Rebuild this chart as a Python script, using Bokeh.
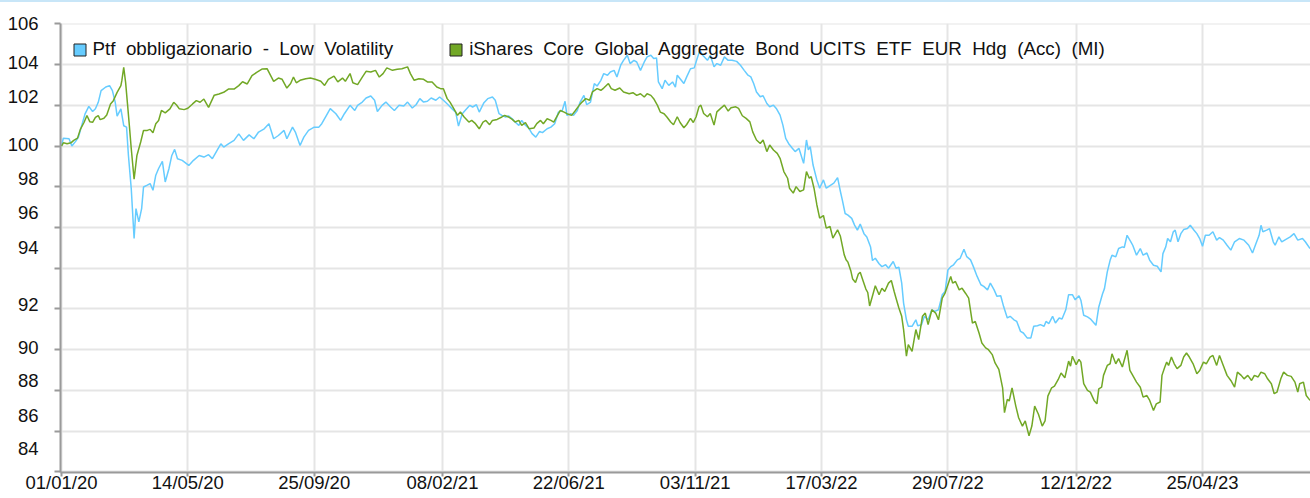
import pandas as pd
from bokeh.plotting import figure
from bokeh.layouts import column
from bokeh.models import (Range1d, FixedTicker, DatetimeTickFormatter, Legend,
                          LegendItem, ColumnDataSource, Div)
from bokeh.embed import file_html
from bokeh.resources import INLINE

START = pd.Timestamp("2020-01-01")

# ---- data: days since 01/01/2020 and index value ----
ptf_days = [0, 2, 8, 11, 15, 18, 22, 25, 29, 33, 36, 39, 42, 47, 51, 54, 57, 59, 63, 66, 69, 71, 74, 77, 79,
            82, 85, 87, 91, 94, 97, 100, 103, 107, 110, 114, 117, 120, 123, 128, 135, 140, 146, 151, 156, 160,
            165, 169, 172, 177, 183, 188, 193, 199, 204, 209,
            215, 220, 225, 230, 236, 239, 245, 248, 253, 257, 262, 268, 273, 276, 281, 285, 291, 296, 300, 306,
            311, 314, 319, 323, 328, 332, 335, 340, 344, 349, 353, 358, 363, 367, 372, 376, 380, 384, 388, 392,
            397, 401, 405, 410, 414, 418, 421, 425, 428, 433,
            436, 440, 443, 448, 452, 457, 460, 464, 467, 471, 474, 478, 481, 485, 488, 492, 496, 499, 503, 507,
            510, 515, 519, 523, 527, 531, 534, 536, 540, 543, 547, 550, 554, 557, 561, 565, 568, 572, 575, 579,
            582, 586, 589, 593, 596, 600, 603, 607, 610, 614, 618, 621, 625, 628, 631, 633, 637, 640, 644, 648, 651,
            653, 656, 660, 663, 667, 671, 674, 677, 680, 685, 688, 692, 695, 699, 703, 707, 711, 716, 720, 724,
            728, 731, 734, 737, 741, 744, 748, 751, 755, 758, 762, 765, 768, 771, 775, 778, 782, 787, 790, 792,
            794, 797, 801, 804, 808, 811, 815, 819, 823, 826,
            828, 831, 834, 838, 841, 844, 847, 851, 854, 858, 860,
            863, 867, 870, 874, 877, 882, 885, 888, 891, 893, 896, 898, 902, 906, 908, 912, 915, 919, 923, 926,
            930, 934, 937, 940, 943, 946, 950, 953, 957, 960, 964, 967, 971, 975, 978, 982, 985, 989, 992, 996,
            999, 1003, 1006, 1010, 1013, 1017, 1020, 1024, 1028, 1031, 1035, 1038, 1042, 1044, 1047, 1051, 1054,
            1058, 1061, 1065, 1068, 1072, 1075, 1079,
            1081, 1084, 1088, 1091, 1094, 1097, 1100, 1104, 1106, 1109, 1112, 1114, 1118, 1121, 1125, 1127, 1130,
            1134, 1136, 1140, 1144, 1147, 1151, 1154, 1158, 1162, 1166, 1168, 1171, 1173, 1176, 1179, 1181, 1184,
            1187, 1190, 1194, 1197, 1201, 1204, 1207, 1210, 1213, 1217, 1221, 1225, 1228, 1232, 1236, 1240, 1244,
            1249, 1254, 1259, 1263, 1266, 1270, 1272, 1274, 1278, 1281, 1285, 1287, 1291, 1294, 1298, 1303, 1307,
            1311, 1316, 1319, 1324]
ptf_vals = [100.0, 100.39, 100.36, 100.0, 100.23, 100.44, 101.1, 101.58, 101.95, 101.7, 101.83, 102.15, 102.72,
            102.9, 102.97, 102.72, 102.15, 101.47, 101.83, 101.0, 100.93, 99.54, 97.9, 95.46, 96.93, 96.28, 96.93,
            97.99, 98.08, 98.16, 97.83, 98.57, 98.9, 99.25, 98.24, 98.9, 99.54, 99.84, 99.38, 99.3, 99.05, 99.3,
            99.54, 99.46, 99.58, 99.38, 99.79, 100.11, 99.95, 100.11, 100.28, 100.6, 100.28, 100.55, 100.36, 100.69,
            100.85, 101.1, 100.36, 100.52, 100.77, 100.36, 100.93, 100.69, 100.03, 100.44, 100.77, 100.93, 100.93,
            101.1, 101.51, 101.84, 101.59, 101.26, 101.59, 102.0, 101.75, 102.0, 102.16, 102.36, 102.46, 102.25,
            101.7, 102.0, 102.16, 101.92, 101.75, 102.0, 101.97, 102.16, 101.87, 102.03, 102.33, 102.16, 102.2,
            102.36, 102.25, 102.41, 102.25, 102.03, 101.84, 101.67, 100.98, 101.59, 101.75, 102.0,
            101.92, 102.03, 101.67, 102.13, 102.33, 102.41, 102.25, 101.59, 101.51, 101.43, 101.48, 101.34, 101.18,
            101.02, 101.26, 101.02, 100.85, 100.61, 100.44, 100.72, 100.66, 100.85, 100.93, 101.1, 101.67, 101.75,
            102.2, 101.51, 101.59, 101.51, 101.75, 102.16, 102.49, 102.03, 102.16, 103.07, 102.95, 103.23, 103.56,
            103.48, 103.64, 103.72, 103.39, 103.97, 104.21, 104.46, 104.05, 104.21, 104.13, 103.72, 104.13, 104.38,
            104.46, 104.3, 104.33, 103.15, 102.82, 103.23, 102.98, 103.15, 102.9,
            103.48, 103.31, 103.07, 103.4, 103.8, 103.84, 104.29, 104.7, 104.46, 104.21, 104.46, 103.89, 104.05,
            103.97, 104.38, 104.21, 104.21, 104.16, 103.97, 103.72, 103.48, 103.4, 103.07, 102.66, 102.42, 102.47,
            102.09, 101.93, 102.01, 101.85, 101.52, 101.03, 100.38, 100.13, 99.89, 99.73, 99.89, 99.15, 100.3,
            99.81, 99.97, 99.07, 98.34, 97.93, 98.34, 97.93, 98.06, 98.18, 98.45, 97.77,
            97.36, 96.69, 96.61, 96.45, 96.12, 95.87, 96.17, 95.7, 95.54, 95.04, 94.38,
            94.49, 94.22, 94.08, 94.17, 94.0, 94.33, 94.0, 94.05, 93.27, 92.29, 91.47, 91.15, 91.15, 91.47, 91.18,
            91.23, 91.64, 91.47, 91.96, 91.88, 91.96, 92.7, 92.86, 93.92, 94.08, 94.17, 94.41, 94.49, 94.93, 94.57,
            94.41, 94.08, 93.6, 93.19, 93.11, 92.94, 93.27, 92.94, 92.62, 92.65, 92.13, 91.56, 91.64, 91.47, 91.39,
            90.9, 90.82, 90.58, 90.58, 91.15, 91.18, 91.23, 91.15, 91.39, 91.28, 91.64, 91.31, 91.56, 91.51, 91.96,
            92.7, 92.7, 92.45, 92.65,
            92.43, 91.69, 91.61, 91.52, 91.36, 91.2, 92.1, 92.75, 93.0, 93.82, 94.39, 94.64, 94.56, 94.97, 95.05,
            95.02, 95.62, 95.3, 95.13, 94.64, 94.97, 94.64, 94.75, 94.39, 94.15, 94.1, 93.82, 94.72, 95.05, 95.46,
            95.3, 95.79, 95.87, 95.3, 95.7, 95.9, 95.95, 96.11, 95.87, 95.7, 95.46, 95.08, 95.62, 95.62, 95.79,
            95.38, 95.51, 95.38, 95.13, 94.89, 95.3, 95.46, 95.38, 95.13, 94.75, 95.13, 95.62, 96.11, 95.79, 95.87,
            95.95, 95.3, 95.13, 95.54, 95.3, 95.41, 95.54, 95.7, 95.38, 95.46, 95.3, 94.97]

etf_days = [0, 2, 6, 10, 13, 17, 20, 24, 27, 30, 33, 36, 39, 41, 45, 48, 52, 55, 59, 63, 64, 66, 68, 70, 72, 74,
            77, 80, 84, 87, 91, 94, 97, 100, 103, 106, 110, 115, 119, 122, 125, 130, 134, 139, 143, 147, 151, 156,
            162, 167, 172, 177, 183, 188, 192, 197, 202, 207, 213,
            218, 225, 230, 234, 239, 243, 246, 249, 253, 259, 264, 269, 275, 279, 283, 289, 293, 298, 301, 306,
            309, 314, 319, 323, 328, 333, 337, 341, 345, 351, 356, 361, 367, 370, 374, 379, 384, 388, 393, 398,
            402, 405, 409, 412, 416, 420, 423, 427, 432,
            435, 439, 443, 447, 450, 454, 457, 462, 467, 470, 474, 478, 481, 485, 488, 492, 496, 501, 504, 508,
            511, 515, 519, 522, 526, 529, 533, 536, 541, 545, 549, 552, 556, 560, 563, 568, 572, 575, 580, 583,
            587, 592, 596, 602, 606, 610, 614, 618, 621, 625, 628, 632, 635, 639, 642, 646, 649,
            653, 656, 660, 663, 667, 670, 673, 676, 678, 681, 685, 688, 692, 695, 699, 703, 707, 710, 715, 718,
            722, 726, 730, 733, 737, 741, 744, 748, 751, 755, 759, 762, 766, 770, 772, 776, 779, 783, 787, 790,
            793, 795, 798, 801, 804, 808, 811, 815, 818, 823, 826, 830, 832,
            834, 837, 839, 842, 845, 847, 850, 853, 855, 857, 860,
            863, 867, 870, 873, 877, 880, 883, 885, 888, 891, 893, 896, 898, 902, 906, 909, 913, 916, 919, 923,
            927, 930, 934, 937, 940, 943, 945, 948, 952, 955, 959, 962, 966, 969, 973, 976, 980, 983, 987, 990,
            994, 998, 1000, 1003, 1005, 1008, 1012, 1015, 1019, 1022, 1026, 1029, 1032, 1036, 1040, 1043, 1046,
            1050, 1053, 1057, 1060, 1064, 1068, 1070, 1072, 1076, 1079,
            1081, 1084, 1088, 1091, 1095, 1098, 1100, 1103, 1105, 1109, 1112, 1114, 1118, 1121, 1125, 1127, 1130,
            1133, 1136, 1140, 1144, 1147, 1151, 1154, 1158, 1161, 1165, 1167, 1170, 1172, 1174, 1177, 1180, 1183,
            1187, 1190, 1193, 1196, 1200, 1204, 1207, 1211, 1214, 1218, 1221, 1225, 1228, 1232, 1236, 1240, 1244,
            1247, 1251, 1254, 1258, 1262, 1265, 1269, 1272, 1276, 1279, 1283, 1286, 1289, 1293, 1296, 1300, 1304,
            1308, 1311, 1313, 1317, 1320, 1324]
etf_vals = [100.0, 100.16, 100.11, 100.16, 100.28, 100.39, 100.82, 101.17, 101.5, 101.2, 101.17, 101.41, 101.5,
            101.3, 101.37, 101.53, 102.07, 102.23, 102.64, 102.97, 103.21, 103.87, 103.13, 102.07, 101.0, 99.87,
            98.37, 99.54, 100.2, 100.77, 100.77, 100.82, 100.65, 101.1, 101.26, 101.75, 101.63, 101.83, 102.15,
            102.02, 101.83, 101.79, 101.86, 102.07, 102.23, 102.15, 102.31, 101.9, 102.5, 102.56, 102.64, 102.8,
            102.8, 102.97, 103.16, 103.05, 103.46, 103.62, 103.79,
            103.8, 103.18, 103.34, 103.28, 102.85, 103.07, 103.39, 103.11, 103.23, 103.31, 103.34, 103.28, 103.18,
            102.98, 103.28, 103.44, 103.15, 103.34, 103.18, 103.56, 103.11, 103.02, 103.39, 103.67, 103.64, 103.72,
            103.39, 103.56, 103.84, 103.72, 103.77, 103.8, 103.89, 103.56, 103.23, 103.31, 103.28, 103.15, 103.15,
            102.9, 102.82, 102.82, 102.33, 102.16, 101.84, 101.51, 101.67, 101.43, 101.18,
            101.26, 101.1, 100.85, 101.18, 101.26, 101.05, 101.26, 101.31, 101.43, 101.51, 101.43, 101.31, 101.18,
            101.26, 101.02, 101.15, 100.85, 100.89, 101.1, 101.26, 101.1, 101.34, 101.26, 101.18, 101.51, 101.75,
            101.67, 101.59, 101.51, 101.75, 102.0, 102.16, 102.33, 102.25, 102.66, 102.82, 102.74, 102.85, 103.07,
            102.82, 102.74, 102.85, 102.66, 102.57, 102.62, 102.49, 102.57, 102.41, 102.57, 102.49, 102.33, 102.0,
            101.67, 101.59, 101.43, 101.18, 101.05,
            101.44, 101.16, 100.9, 101.06, 101.36, 101.16, 101.44, 101.93, 102.01, 101.6, 101.44, 101.6, 101.03,
            101.68, 101.85, 102.01, 101.72, 101.88, 101.93, 101.85, 101.49, 101.36, 101.19, 100.7, 100.3, 100.13,
            100.3, 99.73, 100.05, 99.81, 99.64, 99.4, 98.75, 98.42, 97.93, 97.69, 98.01, 97.77, 97.85, 98.75, 98.42,
            98.5, 97.93, 97.12, 96.46, 96.59, 95.97, 96.05, 95.48, 95.89, 95.57, 94.67, 94.42,
            94.3, 93.88, 93.47, 93.3, 93.72, 93.8, 93.39, 92.98, 92.81, 92.15, 92.64,
            93.14, 92.7, 93.02, 92.86, 93.27, 93.4, 92.86, 92.53, 92.05, 91.64, 90.99, 89.68, 90.25, 89.92, 90.99,
            90.5, 91.64, 91.8, 91.23, 91.96, 91.8, 91.47, 92.53, 92.78, 93.19, 93.6, 93.27, 93.35, 92.94, 93.02,
            92.75, 92.53, 91.31, 91.39, 90.82, 90.33, 90.09, 90.0, 89.76, 89.35, 89.03, 88.13, 86.91, 87.56, 87.48,
            88.13, 87.23, 86.66, 86.25, 86.5, 85.77, 86.25, 87.23, 86.83, 86.25, 86.5, 87.72, 88.13, 88.21, 88.54,
            88.86, 88.62, 89.44, 89.19, 89.68, 89.27, 89.52,
            89.39, 88.33, 88.0, 87.92, 87.51, 87.34, 88.08, 88.16, 88.74, 89.23, 89.31, 89.8, 89.31, 89.56, 89.15,
            89.48, 89.97, 88.98, 88.74, 88.41, 88.16, 87.67, 87.75, 87.51, 87.02, 87.34, 87.43, 88.74, 89.15, 89.39,
            89.23, 89.64, 89.31, 89.07, 89.23, 89.64, 89.84, 89.64, 89.31, 88.82, 88.98, 89.39, 89.31, 89.64, 89.72,
            89.23, 89.72, 89.23, 88.74, 88.49, 88.16, 88.9, 88.74, 88.57, 88.74, 88.49, 88.74, 88.66, 88.9, 88.82,
            88.57, 88.33, 87.84, 87.92, 88.57, 88.9, 88.74, 88.69, 88.41, 87.92, 88.33, 88.41, 87.75, 87.51]

series_names = ["Ptf  obbligazionario  -  Low  Volatility",
                "iShares  Core  Global  Aggregate  Bond  UCITS  ETF  EUR  Hdg  (Acc)  (MI)"]

x_tick_dates = ["2020-01-01", "2020-05-14", "2020-09-25", "2021-02-08", "2021-06-22",
                "2021-11-03", "2022-03-17", "2022-07-29", "2022-12-12", "2023-04-25"]
y_grid_values = [84, 86, 88, 90, 92, 94, 96, 98, 100, 102, 104, 106]
y_tick_labels = ["106", "104", "102", "100", "98", "96", "94", "92", "90", "88", "86", "84"]
# where each y label sits (the source chart's labels drift away from the grid)
y_label_at = [106.0, 104.12, 102.45, 100.1, 98.43, 96.72, 95.0, 92.2, 90.1, 88.48, 86.76, 85.15]

BLUE = "#66ccff"
GREEN = "#72a826"
FONT = "Liberation Sans"


def to_ms(ts):
    return (pd.Timestamp(ts) - pd.Timestamp("1970-01-01")) // pd.Timedelta("1ms")


ptf_dates = START + pd.to_timedelta(ptf_days, unit="D")
etf_dates = START + pd.to_timedelta(etf_days, unit="D")

x_start = START - pd.Timedelta(hours=25)
x_end = START + pd.Timedelta(days=1324.5)

p = figure(width=1310, height=496, x_axis_type="datetime",
           x_range=Range1d(x_start, x_end), y_range=Range1d(83.97, 106.02),
           output_backend="svg", toolbar_location=None,
           min_border_left=60, min_border_right=0, min_border_top=21, min_border_bottom=26,
           margin=0)
p.outline_line_color = None
p.background_fill_color = "white"

# grids
p.xaxis.ticker = FixedTicker(ticks=[to_ms(d) for d in x_tick_dates])
p.xaxis.formatter = DatetimeTickFormatter(
    milliseconds="%d/%m/%y", seconds="%d/%m/%y", minsec="%d/%m/%y", minutes="%d/%m/%y",
    hourmin="%d/%m/%y", hours="%d/%m/%y", days="%d/%m/%y", months="%d/%m/%y", years="%d/%m/%y")
p.ygrid.ticker = FixedTicker(ticks=y_grid_values)
for g in (p.xgrid, p.ygrid):
    g.grid_line_color = "#e5e5e5"
    g.grid_line_width = 2

# y axis: labels at their own spots, tick marks at the grid values
p.yaxis.ticker = FixedTicker(ticks=y_label_at, minor_ticks=y_grid_values)
p.yaxis.major_label_overrides = {v: t for v, t in zip(y_label_at, y_tick_labels)}
p.yaxis.major_tick_line_color = None
p.yaxis.major_tick_out = 0
p.yaxis.major_tick_in = 0
p.yaxis.minor_tick_out = 6
p.yaxis.minor_tick_in = 0
p.yaxis.minor_tick_line_color = "#9a9a9a"
p.yaxis.minor_tick_line_width = 2
p.yaxis.major_label_standoff = 16

p.xaxis.major_tick_out = 4
p.xaxis.major_tick_in = 0
p.xaxis.minor_tick_line_color = None
p.xaxis.major_tick_line_color = "#9a9a9a"
p.xaxis.major_tick_line_width = 2
p.xaxis.major_label_standoff = -5

for ax in (p.xaxis, p.yaxis):
    ax.axis_line_color = "#9a9a9a"
    ax.axis_line_width = 2
    ax.major_label_text_font = FONT
    ax.major_label_text_font_size = "18.5px"
    ax.major_label_text_color = "#111111"

src_ptf = ColumnDataSource(dict(x=ptf_dates, y=ptf_vals))
src_etf = ColumnDataSource(dict(x=etf_dates, y=etf_vals))
p.line("x", "y", source=src_ptf, line_color=BLUE, line_width=1.5)
p.line("x", "y", source=src_etf, line_color=GREEN, line_width=1.5)

# legend swatches: renderers without drawable data, used only by the legend
nan = float("nan")
sw1 = p.quad(left=[nan], right=[nan], top=[nan], bottom=[nan],
             fill_color=BLUE, line_color="#222222", line_width=1)
sw2 = p.quad(left=[nan], right=[nan], top=[nan], bottom=[nan],
             fill_color=GREEN, line_color="#222222", line_width=1)

legend = Legend(items=[LegendItem(label=series_names[0], renderers=[sw1]),
                       LegendItem(label=series_names[1], renderers=[sw2])],
                orientation="horizontal", location=(11.5, 412),
                glyph_width=15, glyph_height=15, label_standoff=6, spacing=55,
                padding=0, margin=0, border_line_color=None, background_fill_alpha=0,
                label_text_font=FONT, label_text_font_size="18.8px", label_text_color="#111111")
p.add_layout(legend)

# thin light-blue band along the top edge of the widget
band = Div(text="", width=1310, height=2, margin=0,
           styles={"background-color": "#c8e6f8"})
page = column(band, p, spacing=0, margin=0)

open("out.html", "w").write(file_html(page, INLINE))
